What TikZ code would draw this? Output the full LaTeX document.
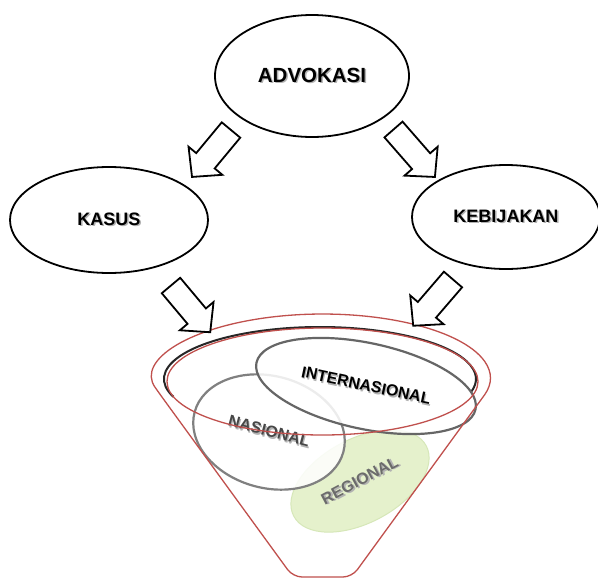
\documentclass[tikz,border=0pt]{standalone}
\usepackage{fontspec}
\setmainfont{Liberation Sans}
\usetikzlibrary{shapes.geometric}
\definecolor{funred}{HTML}{C0504D}
\definecolor{regfill}{HTML}{E5F1CC}
\definecolor{regedge}{HTML}{D6E7B8}
\newcommand\shtxt[2]{\makebox[0pt][l]{\hspace{1.4pt}\raisebox{-1.4pt}{\color{black!30}#2}}{\color{#1}#2}}
\newcommand\blockarr[4]{%
  \begin{scope}[shift={(#1,#2)},rotate=#3]
    \draw[arrowline] (0,-12) -- (#4-21,-12) -- (#4-21,-22) -- (#4,0) -- (#4-21,22) -- (#4-21,12) -- (0,12) -- cycle;
  \end{scope}}
\begin{document}
\begin{tikzpicture}[x=1pt,y=-1pt,
  mainell/.style={ellipse, draw=black, line width=1.8pt, fill=white, inner sep=0pt},
  arrowline/.style={draw=black, line width=1.8pt, fill=white, line join=miter},
  funline/.style={draw=funred, line width=1.3pt},
  levell/.style={ellipse, inner sep=0pt, font=\bfseries\fontsize{16}{19}\selectfont}]
\useasboundingbox (0,0) rectangle (598,579);
\fill[white] (0,0) rectangle (598,579);

% top ellipses
\node[mainell, minimum width=194pt, minimum height=122pt, font=\bfseries\fontsize{20.5}{24}\selectfont] (adv) at (312,76) {\shtxt{black}{ADVOKASI}};
\node[mainell, minimum width=198pt, minimum height=106pt, font=\bfseries\fontsize{18}{21}\selectfont] (kas) at (109,220) {\shtxt{black}{KASUS}};
\node[mainell, minimum width=188pt, minimum height=104pt, font=\bfseries\fontsize{18}{21}\selectfont] (keb) at (506,217) {\shtxt{black}{KEBIJAKAN}};

% funnel content
\draw[line width=2pt, black!85] (173.4,396.8) arc[start angle=160, end angle=375, x radius=156, y radius=52];
\node[levell, rotate=28, minimum width=150pt, minimum height=84pt, fill=regfill, draw=regedge, line width=1pt] (reg) at (360,481) {\shtxt{black!58}{REGIONAL}};
\node[levell, rotate=-15, minimum width=154pt, minimum height=112pt, fill=white, fill opacity=0.85, text opacity=1, draw=black!50, line width=2.2pt] (nas) at (269,432) {\shtxt{black!72}{NASIONAL}};
\node[levell, rotate=-12, minimum width=224pt, minimum height=86pt, fill=white, fill opacity=0.85, text opacity=1, draw=black!60, line width=2.2pt] (int) at (366,386) {\shtxt{black}{INTERNASIONAL}};

% funnel outline
\node[ellipse, funline, minimum width=311pt, minimum height=107pt, inner sep=0pt] (rim) at (322.5,381.5) {};
\draw[funline] (160.2,394.6) arc[start angle=165, end angle=375, x radius=168, y radius=64] [rounded corners=9pt] -- (352,577) -- (293,577) -- cycle;

% block arrows
\blockarr{231}{130}{230.3}{61}
\blockarr{393.5}{129.5}{-48.9}{63}
\blockarr{171}{285.5}{-50}{61}
\blockarr{453}{279.5}{229.3}{61}
\end{tikzpicture}
\end{document}
